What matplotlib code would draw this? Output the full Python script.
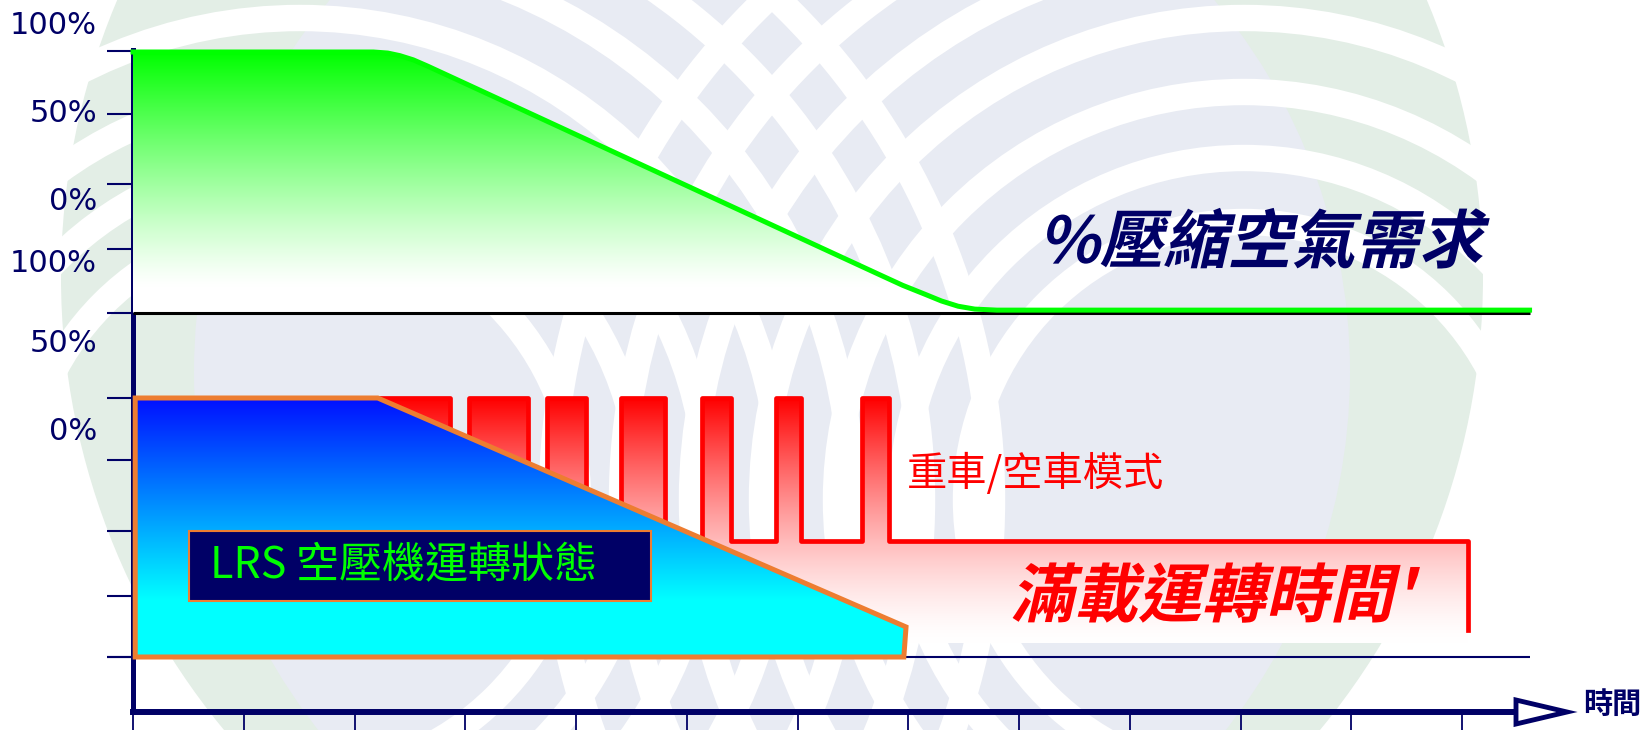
import numpy as np
import matplotlib.pyplot as plt
from matplotlib.patches import Polygon, Circle, Rectangle
from matplotlib.transforms import Affine2D
from matplotlib import patheffects

plt.rcParams['font.family'] = ['Noto Sans CJK TC', 'DejaVu Sans']

W, H = 1647, 730          # output size in pixels
T0, DT = 133, 110.75      # x pixel of t=0 and pixels per time step
NAVY = '#000066'
ORANGE = '#ed7d31'

# time axis ticks
time_ticks = list(range(13))

# % compressed air demand (upper panel)
demand_t = [0.0, 2.17, 2.30, 2.41, 2.53, 2.66, 6.75, 6.95, 7.15, 7.30,
            7.45, 7.60, 7.80, 12.61]
demand_pct = [100, 100, 99.6, 98.6, 97.0, 94.6, 14.5, 10.6, 7.2, 4.6,
              2.6, 1.5, 1.1, 1.1]

# LRS compressor running state (blue area, % load)
lrs_t = [0.02, 2.21, 6.98, 6.96, 0.02]
lrs_load = [100, 100, 11.6, 0, 0]

# load / unload mode (red steps, % load)
lu_t = [2.21, 2.86, 3.03, 3.57, 3.74, 4.09, 4.41, 4.80, 5.14, 5.40,
        5.81, 6.03, 6.58, 6.83, 12.05, 12.05]
lu_load = [100, 44.8, 100, 44.8, 100, 44.8, 100, 44.8, 100, 44.8,
           100, 44.8, 100, 44.8, 44.8, 10.4]
lu_floor = 5.4

# y axis labels
ylabels = ['100%', '50%', '0%', '100%', '50%', '0%']


class Oblique(patheffects.AbstractPathEffect):
    """slant the glyphs to fake an italic face"""
    def __init__(self, angle=13):
        super().__init__()
        self._skew = Affine2D().skew_deg(angle, 0)

    def draw_path(self, renderer, gc, tpath, affine, rgbFace=None):
        renderer.draw_path(gc, tpath, self._skew + affine, rgbFace)


def fig_rect(x0, y_top, x1, y_bot):
    return [x0 / W, 1 - y_bot / H, (x1 - x0) / W, (y_bot - y_top) / H]


def gradient(ax, extent, top, bottom, y_full, y_white, gamma, clip, transform=None, zorder=2):
    y = np.linspace(extent[2], extent[3], 256)
    f = np.clip((y - y_white) / (y_full - y_white), 0, 1) ** gamma
    top, bottom = np.array(top) / 255, np.array(bottom) / 255
    rows = bottom[None, :] * (1 - f[:, None]) + top[None, :] * f[:, None]
    img = np.repeat(rows[:, None, :], 2, axis=1)
    im = ax.imshow(img, extent=extent, origin='lower', aspect='auto',
                   interpolation='bilinear', zorder=zorder)
    if transform is None:
        im.set_clip_path(clip)
    else:
        im.set_clip_path(clip, transform)
    return im


fig = plt.figure(figsize=(W / 100, H / 100), dpi=100, facecolor='white')

# ---- background watermark ----
ax_bg = fig.add_axes([0, 0, 1, 1])
ax_bg.set_xlim(0, W)
ax_bg.set_ylim(H, 0)
ax_bg.axis('off')
ax_bg.add_patch(Circle((772, 277), 711, fc='#e3eee6', ec='none'))
ax_bg.add_patch(Circle((772, 372), 578, fc='#e8ebf3', ec='none'))
for r in [278, 342, 408, 482, 552, 622, 692]:
    for cx in (300, 1244):
        ax_bg.add_patch(Circle((cx, 500), r, fc='none', ec='white', lw=19))

# ---- axis frame ----
ax_time = fig.add_axes(fig_rect(T0, 50, 1516, 712))
ax_time.patch.set_visible(False)
ax_time.set_xlim(0, (1516 - T0) / DT)
ax_time.set_ylim(712, 50)
for s in ['top', 'right']:
    ax_time.spines[s].set_visible(False)
ax_time.spines['left'].set_linewidth(3.6)
ax_time.spines['bottom'].set_linewidth(4.3)
ax_time.spines['left'].set_color(NAVY)
ax_time.spines['bottom'].set_color(NAVY)
ax_time.set_xticks(time_ticks)
ax_time.set_yticks([51, 114, 184, 249, 313, 398, 460, 531, 596, 657])
ax_time.tick_params(axis='x', direction='out', length=14, width=1.3, colors=NAVY, labelbottom=False)
ax_time.tick_params(axis='y', direction='out', length=18.5, width=1.5, colors=NAVY, labelleft=False)

xlim = (-T0 / DT, (W - T0) / DT)

# ---- upper panel: demand ----
ax_top = fig.add_axes(fig_rect(0, 52, W, 313))
ax_top.set_xlim(*xlim)
ax_top.set_ylim(0, 100)
ax_top.axis('off')
fill = ax_top.fill_between(demand_t, demand_pct, 0, facecolor='none', edgecolor='none')
gradient(ax_top, [0, 12.7, 0, 100], (0, 255, 0), (255, 255, 255), 100, 10, 1.2,
         fill.get_paths()[0], ax_top.transData, zorder=1)
ax_top.hlines(0, 0, demand_t[-1], color='black', lw=2.2, zorder=2, clip_on=False)
ax_top.plot(demand_t, demand_pct, color='#00ff00', lw=3.6, zorder=3,
            solid_joinstyle='round', clip_on=False)
ax_top.set_xlim(*xlim)
ax_top.set_ylim(0, 100)

# ---- lower panel: compressor state ----
ax_bot = fig.add_axes(fig_rect(0, 398, W, 657))
ax_bot.set_xlim(*xlim)
ax_bot.set_ylim(0, 100)
ax_bot.axis('off')
ax_bot.hlines(0, -26 / DT, demand_t[-1], color=NAVY, lw=1.5, zorder=1, clip_on=False)
red = ax_bot.fill_between(lu_t, lu_load, lu_floor, step='post', facecolor='none', edgecolor='none')
gradient(ax_bot, [2, 12.2, 0, 100], (255, 0, 0), (255, 255, 255), 100, lu_floor, 1.5,
         red.get_paths()[0], ax_bot.transData, zorder=2)
ax_bot.plot(lu_t, lu_load, drawstyle='steps-post', color='#ff0000', lw=3.4,
            zorder=3, clip_on=False)
lrs = Polygon(list(zip(lrs_t, lrs_load)), closed=True, facecolor='none',
              edgecolor=ORANGE, lw=3.6, zorder=5, clip_on=False)
ax_bot.add_patch(lrs)
gradient(ax_bot, [0, 7.1, 0, 100], (0, 16, 255), (0, 255, 255), 100, 22, 1.0, lrs, zorder=4)
ax_bot.set_xlim(*xlim)
ax_bot.set_ylim(0, 100)

# ---- texts and decorations ----
ax_fg = fig.add_axes([0, 0, 1, 1])
ax_fg.set_xlim(0, W)
ax_fg.set_ylim(H, 0)
ax_fg.axis('off')

for lab, y in zip(ylabels, [25, 114, 202, 264, 343, 432]):
    ax_fg.text(97, y, lab, ha='right', va='center', fontsize=22, color=NAVY,
               family=['DejaVu Sans'])

ax_fg.add_patch(Polygon([(1516, 700), (1516, 724), (1567, 712)], closed=True,
                        fc='white', ec=NAVY, lw=3.5, joinstyle='miter'))
ax_fg.text(1583, 704, '時間', ha='left', va='center', fontsize=21,
           fontweight='bold', color=NAVY)

ax_fg.add_patch(Rectangle((189, 531), 462, 70, fc=NAVY, ec=ORANGE, lw=1.5))
ax_fg.text(210, 566, 'LRS 空壓機運轉狀態', ha='left', va='center', fontsize=31,
           color='#00ff00')

ax_fg.text(907, 474, '重車/空車模式', ha='left', va='center', fontsize=29,
           color='#ff0000')

ax_fg.text(1038, 244, '%壓縮空氣需求', ha='left', va='center', fontsize=46,
           fontweight='bold', color=NAVY, path_effects=[Oblique(13)])
ax_fg.text(1010, 598, "滿載運轉時間'", ha='left', va='center', fontsize=46,
           fontweight='bold', color='#ff0000', path_effects=[Oblique(13)])

fig.savefig('out.png', dpi=100)
